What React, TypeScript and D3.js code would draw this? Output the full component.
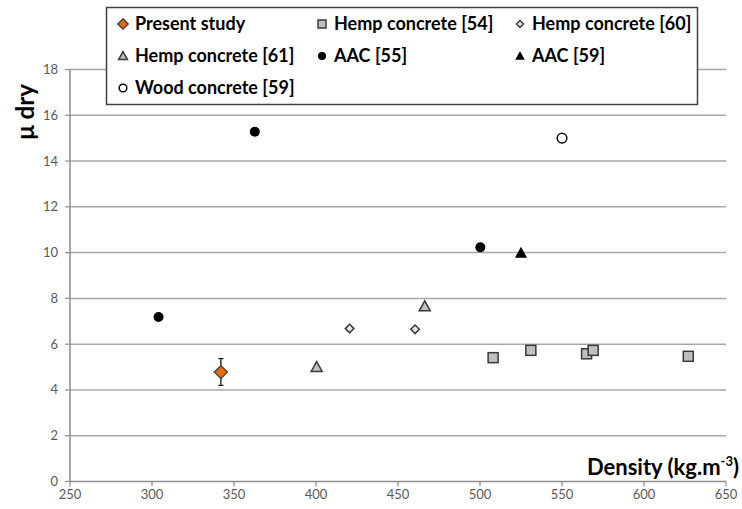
import React from 'react';
import * as d3 from 'd3';

// values
const xTicks = [250, 300, 350, 400, 450, 500, 550, 600, 650];
const yTicks = [0, 2, 4, 6, 8, 10, 12, 14, 16, 18];

const presentX = [342];
const presentY = [4.78];
const presentLo = [4.2];
const presentHi = [5.37];

const hemp54X = [508, 531, 565, 569, 627];
const hemp54Y = [5.41, 5.73, 5.58, 5.73, 5.47];

const hemp60X = [420.5, 460.4];
const hemp60Y = [6.68, 6.65];

const hemp61X = [400.4, 466.3];
const hemp61Y = [5.0, 7.65];

const aac55X = [304, 362.7, 500.2];
const aac55Y = [7.19, 15.28, 10.23];

const aac59X = [525];
const aac59Y = [9.99];

const wood59X = [550];
const wood59Y = [15.0];

const legendLabels = [
  'Present study', 'Hemp concrete [54]', 'Hemp concrete [60]',
  'Hemp concrete [61]', 'AAC [55]', 'AAC [59]',
  'Wood concrete [59]',
];

const W = 742;
const H = 509;
const FONT = 'Lato, "Open Sans", sans-serif';
const DARK = '#3a3a3a';

type Kind = 'present' | 'hemp54' | 'hemp60' | 'hemp61' | 'aac55' | 'aac59' | 'wood59';

const Marker: React.FC<{ kind: Kind; x: number; y: number; s?: number }> = ({ kind, x, y, s = 1 }) => {
  switch (kind) {
    case 'present': {
      const r = 6.5 * s;
      return <path d={`M${x},${y - r}L${x + r},${y}L${x},${y + r}L${x - r},${y}Z`} fill="#E46C0A" stroke={DARK} strokeWidth={1.3} />;
    }
    case 'hemp54': {
      const h = 5 * s;
      return <rect x={x - h} y={y - h} width={2 * h} height={2 * h} fill="#BFBFBF" stroke={DARK} strokeWidth={1.5} />;
    }
    case 'hemp60': {
      const r = 4.3 * s;
      return <path d={`M${x},${y - r}L${x + r},${y}L${x},${y + r}L${x - r},${y}Z`} fill="#E6E6E6" stroke={DARK} strokeWidth={1.5} />;
    }
    case 'hemp61': {
      const r = 5.5 * s;
      return <path d={`M${x},${y - r}L${x + r},${y + r * 0.8}L${x - r},${y + r * 0.8}Z`} fill="#BFBFBF" stroke={DARK} strokeWidth={1.5} />;
    }
    case 'aac55':
      return <circle cx={x} cy={y} r={5 * s} fill="#000" />;
    case 'aac59': {
      const r = 6 * s;
      return <path d={`M${x},${y - r}L${x + r},${y + r * 0.8}L${x - r},${y + r * 0.8}Z`} fill="#000" />;
    }
    case 'wood59':
      return <circle cx={x} cy={y} r={4.8 * s} fill="#fff" stroke="#000" strokeWidth={1.5} />;
  }
  return null;
};

const App: React.FC = () => {
  const left = 70, right = 726, top = 69.5, bottom = 481.5;
  const x = d3.scaleLinear().domain([250, 650]).range([left, right]);
  const y = d3.scaleLinear().domain([0, 18]).range([bottom, top]);

  const series: { kind: Kind; xs: number[]; ys: number[] }[] = [
    { kind: 'hemp54', xs: hemp54X, ys: hemp54Y },
    { kind: 'hemp60', xs: hemp60X, ys: hemp60Y },
    { kind: 'hemp61', xs: hemp61X, ys: hemp61Y },
    { kind: 'aac55', xs: aac55X, ys: aac55Y },
    { kind: 'aac59', xs: aac59X, ys: aac59Y },
    { kind: 'wood59', xs: wood59X, ys: wood59Y },
  ];

  const legendKinds: Kind[] = ['present', 'hemp54', 'hemp60', 'hemp61', 'aac55', 'aac59', 'wood59'];
  const colX = [123, 322, 520];
  const rowY = [24, 56, 88];

  return (
    <svg width={W} height={H} style={{ position: 'absolute', left: 0, top: 0, background: '#fff' }}>
      {/* gridlines */}
      {yTicks.filter(t => t > 0).map(t => (
        <line key={'g' + t} x1={left} x2={right} y1={y(t)} y2={y(t)} stroke="#A8A8A8" strokeWidth={1.5} />
      ))}
      {/* axes */}
      <line x1={left} x2={left} y1={top} y2={bottom} stroke="#8C8C8C" strokeWidth={1.5} />
      <line x1={left} x2={right} y1={bottom} y2={bottom} stroke="#8C8C8C" strokeWidth={1.5} />
      {yTicks.map(t => (
        <g key={'y' + t}>
          <line x1={left - 5} x2={left} y1={y(t)} y2={y(t)} stroke="#8C8C8C" strokeWidth={1.2} />
          <text x={left - 12} y={y(t)} dy="0.35em" textAnchor="end" fontFamily={FONT} fontSize={13} fill="#595959">{t}</text>
        </g>
      ))}
      {xTicks.map(t => (
        <g key={'x' + t}>
          <line x1={x(t)} x2={x(t)} y1={bottom} y2={bottom + 5} stroke="#8C8C8C" strokeWidth={1.2} />
          <text x={x(t)} y={bottom + 17} textAnchor="middle" fontFamily={FONT} fontSize={13} fill="#595959">{t}</text>
        </g>
      ))}

      {/* axis titles */}
      <text transform={`translate(34,112) rotate(-90)`} textAnchor="middle" fontFamily={FONT} fontWeight="bold" fontSize={24} fill="#000">μ dry</text>
      <text x={739} y={475} textAnchor="end" fontFamily={FONT} fontWeight="bold" fontSize={22} fill="#000">
        Density (kg.m<tspan dy={-9} fontSize={13}>-3</tspan><tspan dy={9}>)</tspan>
      </text>

      {/* data */}
      {series.map(s => s.xs.map((v, i) => (
        <Marker key={s.kind + i} kind={s.kind} x={x(v)} y={y(s.ys[i])} />
      )))}
      {presentX.map((v, i) => (
        <g key={'p' + i}>
          <line x1={x(v)} x2={x(v)} y1={y(presentHi[i])} y2={y(presentLo[i])} stroke="#000" strokeWidth={1.2} />
          <line x1={x(v) - 2.5} x2={x(v) + 2.5} y1={y(presentHi[i])} y2={y(presentHi[i])} stroke="#000" strokeWidth={1.2} />
          <line x1={x(v) - 2.5} x2={x(v) + 2.5} y1={y(presentLo[i])} y2={y(presentLo[i])} stroke="#000" strokeWidth={1.2} />
          <Marker kind="present" x={x(v)} y={y(presentY[i])} />
        </g>
      ))}

      {/* legend */}
      <rect x={106.5} y={7.5} width={591} height={97} fill="#fff" stroke="#404040" strokeWidth={1.5} />
      {legendKinds.map((k, i) => {
        const cx = colX[i % 3];
        const cy = rowY[Math.floor(i / 3)];
        return (
          <g key={'l' + k}>
            <Marker kind={k} x={cx} y={cy} s={0.8} />
            <text x={cx + 12} y={cy} dy="0.35em" fontFamily={FONT} fontWeight="bold" fontSize={18} fill="#000">{legendLabels[i]}</text>
          </g>
        );
      })}
    </svg>
  );
};

export default App;
